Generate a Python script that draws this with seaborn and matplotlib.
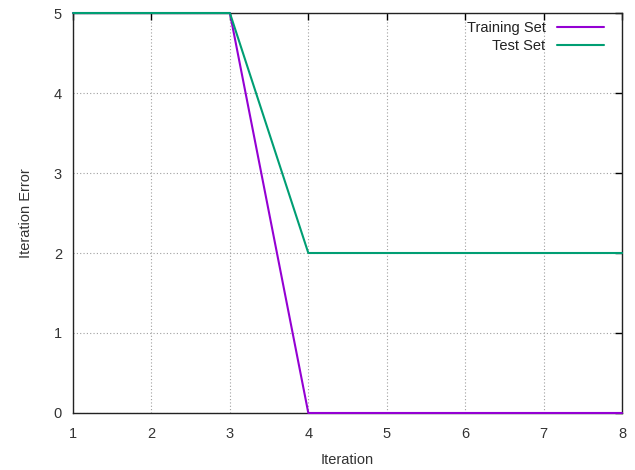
import matplotlib
matplotlib.use("Agg")
import matplotlib.pyplot as plt
import seaborn as sns
import pandas as pd

# data
ITERATIONS = [1, 2, 3, 4, 5, 6, 7, 8]
TRAINING_ERR = [5, 5, 5, 0, 0, 0, 0, 0]
TEST_ERR = [5, 5, 5, 2, 2, 2, 2, 2]
SERIES = ["Training Set", "Test Set"]
COLORS = ["#9400d3", "#009e73"]

sns.set_style("white")
plt.rcParams["font.family"] = ["Liberation Sans", "DejaVu Sans"]

df = pd.DataFrame({
    "Iteration": ITERATIONS * 2,
    "Error": TRAINING_ERR + TEST_ERR,
    "Set": [SERIES[0]] * len(ITERATIONS) + [SERIES[1]] * len(ITERATIONS),
})

fig = plt.figure(figsize=(6.35, 4.70), dpi=100)
ax = fig.add_axes([0.115, 0.1213, 0.8646, 0.851])

sns.lineplot(data=df, x="Iteration", y="Error", hue="Set",
             hue_order=SERIES, palette=COLORS, linewidth=1.5, ax=ax)

# gnuplot draws the curves over the border
for ln in ax.lines:
    ln.set_clip_on(False)
    ln.set_zorder(5)

ax.set_xlim(1, 8)
ax.set_ylim(0, 5)
ax.set_xticks(range(1, 9))
ax.set_yticks(range(0, 6))
ax.grid(True, color="#a0a0a0", linestyle=(0, (1, 2)), linewidth=0.8)
for s in ax.spines.values():
    s.set_color("#222222")
    s.set_linewidth(1.0)
ax.tick_params(direction="in", length=5, width=1, colors="black",
               labelcolor="#333333", labelsize=10.5, top=True, right=True)
ax.tick_params(axis="x", pad=10)
ax.tick_params(axis="y", pad=8)
ax.set_xlabel("Iteration", fontsize=10.5, color="#333333", labelpad=9)
ax.set_ylabel("Iteration Error", fontsize=10.5, color="#333333", labelpad=15)

leg = ax.legend(loc="upper right", bbox_to_anchor=(0.98, 0.998),
                frameon=False, markerfirst=False,
                fontsize=10.5, handlelength=3.2, borderaxespad=0.1,
                labelspacing=0.25, handletextpad=0.8)
for t in leg.get_texts():
    t.set_ha("right")
    t.set_color("#222222")

fig.savefig("out.png", dpi=100)
